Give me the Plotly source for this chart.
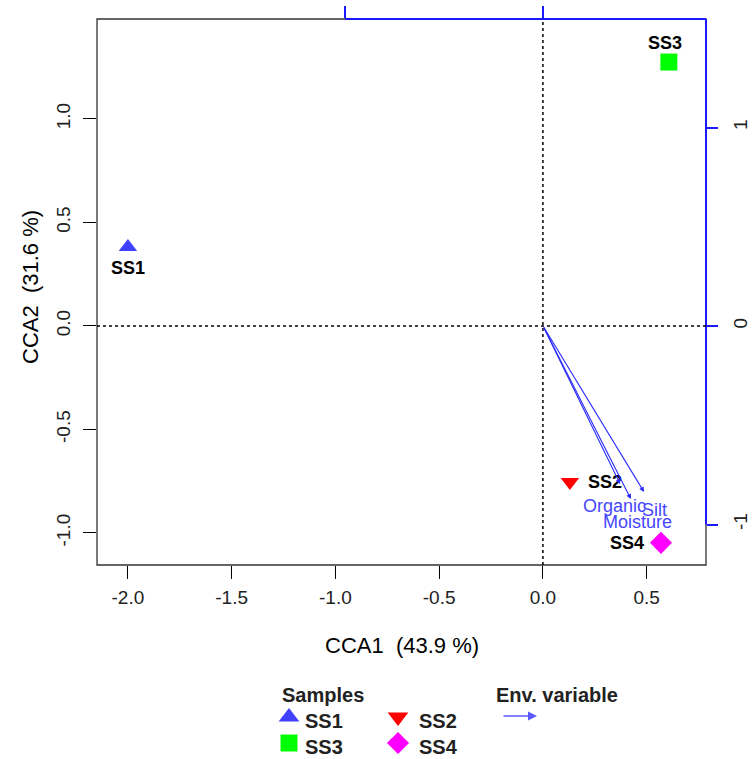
import plotly.graph_objects as go

# ---------------- data ----------------
samples = ["SS1", "SS2", "SS3", "SS4"]
cca1 = [-2.0, 0.13, 0.607, 0.569]
cca2 = [0.382, -0.754, 1.275, -1.048]
sample_colors = ["#4040ff", "#ff0000", "#00ff00", "#ff00ff"]
sample_symbols = ["triangle-up", "triangle-down", "square", "diamond"]

env_vars = ["Organic", "Moisture", "Silt"]
env_cca1 = [0.389, 0.444, 0.510]
env_cca2 = [-0.796, -0.872, -0.836]

x_ticks = [-2.0, -1.5, -1.0, -0.5, 0.0, 0.5]
y_ticks = [-1.0, -0.5, 0.0, 0.5, 1.0]
bi_ticks = [-1, 0, 1]

x_title = "CCA1  (43.9 %)"
y_title = "CCA2  (31.6 %)"

# ---------------- layout geometry ----------------
W, H = 753, 759
L, R, T, B = 97, 706, 19, 565
xrange = [-2.149, 0.786]
yrange = [-1.155, 1.483]
x2range = [-2.253, 0.823]
y2range = [-1.204, 1.547]

FONT = "Liberation Sans, Arial, sans-serif"
ARROW_BLUE = "#2a2aff"
AXIS_BLUE = "#1a1aff"

def px(x):
    return x / W

def py(y):
    return 1 - y / H

fig = go.Figure()

# samples
fig.add_trace(go.Scatter(
    x=cca1, y=cca2, mode="markers",
    marker=dict(symbol=sample_symbols, color=sample_colors, opacity=1,
                size=[16, 16, 17, 17], line=dict(width=0)),
    xaxis="x", yaxis="y", showlegend=False, hoverinfo="skip", cliponaxis=False,
))

# dummy traces to activate secondary axes
fig.add_trace(go.Scatter(x=env_cca1, y=env_cca2, mode="markers",
                         marker=dict(size=1, opacity=0), xaxis="x2", yaxis="y2",
                         showlegend=False, hoverinfo="skip"))

# legend keys (legend area axis in pixel coordinates)
leg_x = [289, 398, 289, 398]
leg_y = [717, 717, 743, 743]
fig.add_trace(go.Scatter(
    x=leg_x, y=leg_y, mode="markers",
    marker=dict(symbol=["triangle-up", "triangle-down", "square", "diamond"],
                color=["#4040ff", "#ff0000", "#00ff00", "#ff00ff"], opacity=1,
                size=[18, 18, 17, 17], line=dict(width=0)),
    xaxis="x3", yaxis="y3", showlegend=False, hoverinfo="skip",
))

dom_x = [px(L), px(R)]
dom_y = [py(B), py(T)]

tickfont = dict(family=FONT, size=19, color="#222222")

fig.update_layout(
    width=W, height=H,
    margin=dict(l=0, r=0, t=0, b=0, autoexpand=False),
    paper_bgcolor="white", plot_bgcolor="rgba(0,0,0,0)",
    showlegend=False,
    xaxis=dict(domain=dom_x, range=xrange, tickvals=x_ticks,
               ticktext=[f"{v:.1f}" for v in x_ticks],
               ticks="outside", ticklen=13, tickcolor="black", tickwidth=1,
               tickfont=tickfont, showgrid=False, zeroline=False, showline=False,
               anchor="y", automargin=False, ticklabelstandoff=2),
    yaxis=dict(domain=dom_y, range=yrange, tickvals=y_ticks,
               ticktext=[f"{v:.1f}" for v in y_ticks], tickangle=-90,
               ticks="outside", ticklen=13, tickcolor="black", tickwidth=1,
               tickfont=tickfont, showgrid=False, zeroline=False, showline=False,
               anchor="x", automargin=False, ticklabelstandoff=5),
    xaxis2=dict(overlaying="x", side="top", range=x2range, tickvals=bi_ticks,
                ticks="outside", ticklen=12, tickcolor=AXIS_BLUE, tickwidth=2,
                showticklabels=False, showgrid=False, zeroline=False,
                showline=False, anchor="y2", automargin=False),
    yaxis2=dict(overlaying="y", side="right", range=y2range, tickvals=bi_ticks,
                ticktext=[str(v) for v in bi_ticks], tickangle=-90,
                ticks="outside", ticklen=11, tickcolor=AXIS_BLUE, tickwidth=2,
                tickfont=tickfont, showgrid=False, zeroline=False,
                showline=False, anchor="x2", automargin=False, ticklabelstandoff=6),
    xaxis3=dict(domain=[0, 1], range=[0, W], visible=False, anchor="y3",
                fixedrange=True),
    yaxis3=dict(domain=[0, 1], range=[H, 0], visible=False, anchor="x3",
                fixedrange=True),
)

shapes = []
# frame
shapes.append(dict(type="rect", xref="paper", yref="paper",
                   x0=px(L), x1=px(R), y0=py(B), y1=py(T),
                   line=dict(color="#333333", width=1.3), fillcolor="rgba(0,0,0,0)"))
# blue biplot axis lines (top and right)
shapes.append(dict(type="line", xref="x2", yref="paper",
                   x0=bi_ticks[0], x1=x2range[1], y0=py(T), y1=py(T),
                   line=dict(color=AXIS_BLUE, width=2)))
shapes.append(dict(type="line", xref="paper", yref="y2",
                   x0=px(R), x1=px(R), y0=bi_ticks[0], y1=y2range[1],
                   line=dict(color=AXIS_BLUE, width=2)))
# dotted zero lines
shapes.append(dict(type="line", xref="x", yref="y", x0=0, x1=0,
                   y0=yrange[0], y1=yrange[1],
                   line=dict(color="black", width=1.5, dash="dot")))
shapes.append(dict(type="line", xref="x", yref="y", x0=xrange[0], x1=xrange[1],
                   y0=0, y1=0, line=dict(color="black", width=1.5, dash="dot")))
fig.update_layout(shapes=shapes)

ann = []
# sample labels (offsets from marker, in px)
sample_label_shift = {"SS1": (0, -21), "SS2": (35, 0), "SS3": (-4, 19), "SS4": (-34, 0)}
for s, vx, vy in zip(samples, cca1, cca2):
    dx, dy = sample_label_shift[s]
    ann.append(dict(x=vx, y=vy, xref="x", yref="y", text=f"<b>{s}</b>",
                    showarrow=False, xshift=dx, yshift=dy,
                    xanchor="center", yanchor="middle",
                    font=dict(family=FONT, size=18, color="black")))
# env arrows
for vx, vy in zip(env_cca1, env_cca2):
    ann.append(dict(x=vx, y=vy, xref="x2", yref="y2", ax=0, ay=0,
                    axref="x2", ayref="y2", text="", showarrow=True,
                    arrowhead=2, arrowsize=0.9, arrowwidth=1.1,
                    arrowcolor=ARROW_BLUE))
# env labels (offsets from tip, in px)
label_shift = {"Organic": (-6, -22), "Moisture": (7, -23), "Silt": (10, -18)}
for name, vx, vy in zip(env_vars, env_cca1, env_cca2):
    dx, dy = label_shift[name]
    ann.append(dict(x=vx, y=vy, xref="x2", yref="y2", text=name,
                    showarrow=False, xshift=dx, yshift=dy,
                    xanchor="center", yanchor="middle",
                    font=dict(family=FONT, size=18, color="#4646ff")))

# axis titles
ann.append(dict(x=px((L + R) / 2), y=py(645), xref="paper", yref="paper",
                text=x_title, showarrow=False, xanchor="center", yanchor="middle",
                font=dict(family=FONT, size=22, color="black")))
ann.append(dict(x=px(30), y=py(287), xref="paper", yref="paper",
                text=y_title, showarrow=False, textangle=-90,
                xanchor="center", yanchor="middle",
                font=dict(family=FONT, size=22, color="black")))

# legend texts
legfont = dict(family=FONT, size=20, color="#222222")
ann.append(dict(x=px(323), y=py(695), xref="paper", yref="paper",
                text="<b>Samples</b>", showarrow=False, font=legfont,
                xanchor="center", yanchor="middle"))
ann.append(dict(x=px(557), y=py(695), xref="paper", yref="paper",
                text="<b>Env. variable</b>", showarrow=False, font=legfont,
                xanchor="center", yanchor="middle"))
for s, lx, ly in zip(["SS1", "SS2", "SS3", "SS4"], [303, 417, 303, 417],
                     [721, 721, 747, 747]):
    ann.append(dict(x=px(lx), y=py(ly), xref="paper", yref="paper",
                    text=f"<b>{s}</b>", showarrow=False, xanchor="left",
                    yanchor="middle", font=legfont))
# legend arrow
ann.append(dict(x=px(537), y=py(716), xref="paper", yref="paper",
                ax=-35, ay=0, axref="pixel", ayref="pixel",
                text="", showarrow=True, arrowhead=2, arrowsize=1.2,
                arrowwidth=1.5, arrowcolor="#5a5aff"))
fig.update_layout(annotations=ann)

fig.write_html("out.html", config={"displayModeBar": False},
               post_script="document.body.style.margin='0';document.body.style.padding='0';")
